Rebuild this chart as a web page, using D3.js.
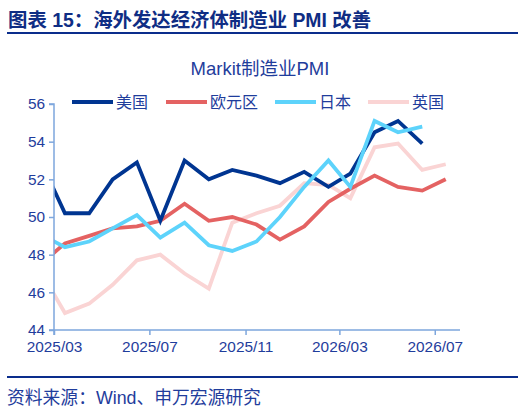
<!DOCTYPE html>
<html>
<head>
<meta charset="utf-8">
<script src="https://cdn.jsdelivr.net/npm/d3@7"></script>
<style>
  body { margin: 0; background: #fff; }
  svg { display: block; font-family: "Liberation Sans", Arial, "Noto Sans CJK SC", sans-serif; }
</style>
</head>
<body>
<svg id="chart" width="524" height="410"></svg>
<script>
// months, first one (2025/02) sits left of the axis and is clipped
const months = ["2025-02", "2025-03", "2025-04", "2025-05", "2025-06", "2025-07", "2025-08", "2025-09",
    "2025-10", "2025-11", "2025-12", "2026-01", "2026-02", "2026-03", "2026-04", "2026-05", "2026-06", "2026-07"];
const usPMI    = [52.7, 50.2, 50.2, 52.0, 52.9, 49.8, 53.0, 52.0, 52.5, 52.2, 51.8, 52.4, 51.6, 52.3, 54.5, 55.1, 53.9, null];
const euroPMI  = [47.6, 48.6, 49.0, 49.4, 49.5, 49.8, 50.7, 49.8, 50.0, 49.6, 48.8, 49.5, 50.8, 51.5, 52.2, 51.6, 51.4, 52.0];
const japanPMI = [49.0, 48.4, 48.7, 49.4, 50.1, 48.9, 49.7, 48.5, 48.2, 48.7, 50.0, 51.6, 53.0, 51.6, 55.1, 54.5, 54.8, null];
const ukPMI    = [46.9, 44.9, 45.4, 46.4, 47.7, 48.0, 47.0, 46.2, 49.7, 50.2, 50.6, 51.8, 51.7, 51.0, 53.7, 53.9, 52.5, 52.8];
const seriesNames = ["美国", "欧元区", "日本", "英国"];
const yTicks = [44, 46, 48, 50, 52, 54, 56];
const xTicks = ["2025-03", "2025-07", "2025-11", "2026-03", "2026-07"];

const colors = ["#003591", "#e46262", "#5dd3fb", "#fad4d4"];
const textColor = "#1f3d9c";
const axisColor = "#7ea7dd";

const svg = d3.select("#chart");
const margin = { top: 104, right: 65, bottom: 80, left: 54 };
const width = 524, height = 410;

const parseMonth = d3.timeParse("%Y-%m");
// points are plotted mid-month
const midMonth = s => d3.timeDay.offset(parseMonth(s), 14);

const x = d3.scaleTime()
    .domain([parseMonth("2025-03"), parseMonth("2026-08")])
    .range([margin.left, width - margin.right]);

const y = d3.scaleLinear()
    .domain([44, 56])
    .range([height - margin.bottom, margin.top]);

// title block
svg.append("text")
    .attr("x", 8).attr("y", 27)
    .attr("fill", "#0f2d84")
    .attr("font-size", 19.4).attr("font-weight", "bold")
    .text("图表 15：海外发达经济体制造业 PMI 改善");
svg.append("line")
    .attr("x1", 7).attr("x2", 518).attr("y1", 33).attr("y2", 33)
    .attr("stroke", "#0a2d8c").attr("stroke-width", 2);

svg.append("text")
    .attr("x", 260).attr("y", 75)
    .attr("text-anchor", "middle")
    .attr("fill", textColor).attr("font-size", 18.5)
    .text("Markit制造业PMI");

// clip so the Feb point is cut at the y axis
svg.append("clipPath").attr("id", "plotClip")
    .append("rect")
    .attr("x", margin.left).attr("y", 0)
    .attr("width", width - margin.right - margin.left).attr("height", height);

const allSeries = [usPMI, euroPMI, japanPMI, ukPMI];
const line = d3.line()
    .defined(d => d.v != null)
    .x(d => x(d.date))
    .y(d => y(d.v));

// draw UK first so it sits beneath, US last
const drawOrder = [3, 1, 0, 2];
svg.append("g")
    .attr("clip-path", "url(#plotClip)")
    .selectAll("path")
    .data(drawOrder)
    .enter().append("path")
    .attr("fill", "none")
    .attr("stroke", i => colors[i])
    .attr("stroke-width", 3.8)
    .attr("stroke-linejoin", "miter")
    .attr("d", i => line(allSeries[i].map((v, j) => ({ date: midMonth(months[j]), v: v }))));

// axes
const yAxis = svg.append("g")
    .attr("transform", `translate(${margin.left},0)`)
    .call(d3.axisLeft(y).tickValues(yTicks).tickSize(5).tickPadding(4));

const xAxis = svg.append("g")
    .attr("transform", `translate(0,${height - margin.bottom})`)
    .call(d3.axisBottom(x).tickValues(xTicks.map(parseMonth)).tickSize(5).tickPadding(6)
        .tickFormat(d3.timeFormat("%Y/%m")));

[yAxis, xAxis].forEach(g => {
    g.select(".domain").attr("stroke", axisColor).attr("stroke-width", 1.5);
    g.selectAll(".tick line").attr("stroke", axisColor).attr("stroke-width", 1.5);
    g.selectAll(".tick text")
        .attr("fill", textColor)
        .attr("font-size", 15.4)
        .attr("font-family", "'Liberation Sans', Arial, sans-serif");
});
yAxis.select(".domain").attr("d", `M-5,${y(56)}H0V${y(44)}H-5`);
xAxis.select(".domain").attr("d", `M${margin.left},5V0H${width - margin.right + 1}`);

// legend
const legendX = [72, 166, 275, 368];
const legend = svg.append("g")
    .selectAll("g")
    .data(seriesNames)
    .enter().append("g")
    .attr("transform", (d, i) => `translate(${legendX[i]},102)`);
legend.append("line")
    .attr("x1", 0).attr("x2", 41)
    .attr("stroke", (d, i) => colors[i])
    .attr("stroke-width", 4);
legend.append("text")
    .attr("x", 44).attr("y", 6)
    .attr("fill", textColor).attr("font-size", 16)
    .text(d => d);

// footer
svg.append("line")
    .attr("x1", 7).attr("x2", 518).attr("y1", 377).attr("y2", 377)
    .attr("stroke", "#0a2d8c").attr("stroke-width", 2);
svg.append("text")
    .attr("x", 7).attr("y", 404)
    .attr("fill", textColor).attr("font-size", 17.8)
    .text("资料来源：Wind、申万宏源研究");
</script>
</body>
</html>
